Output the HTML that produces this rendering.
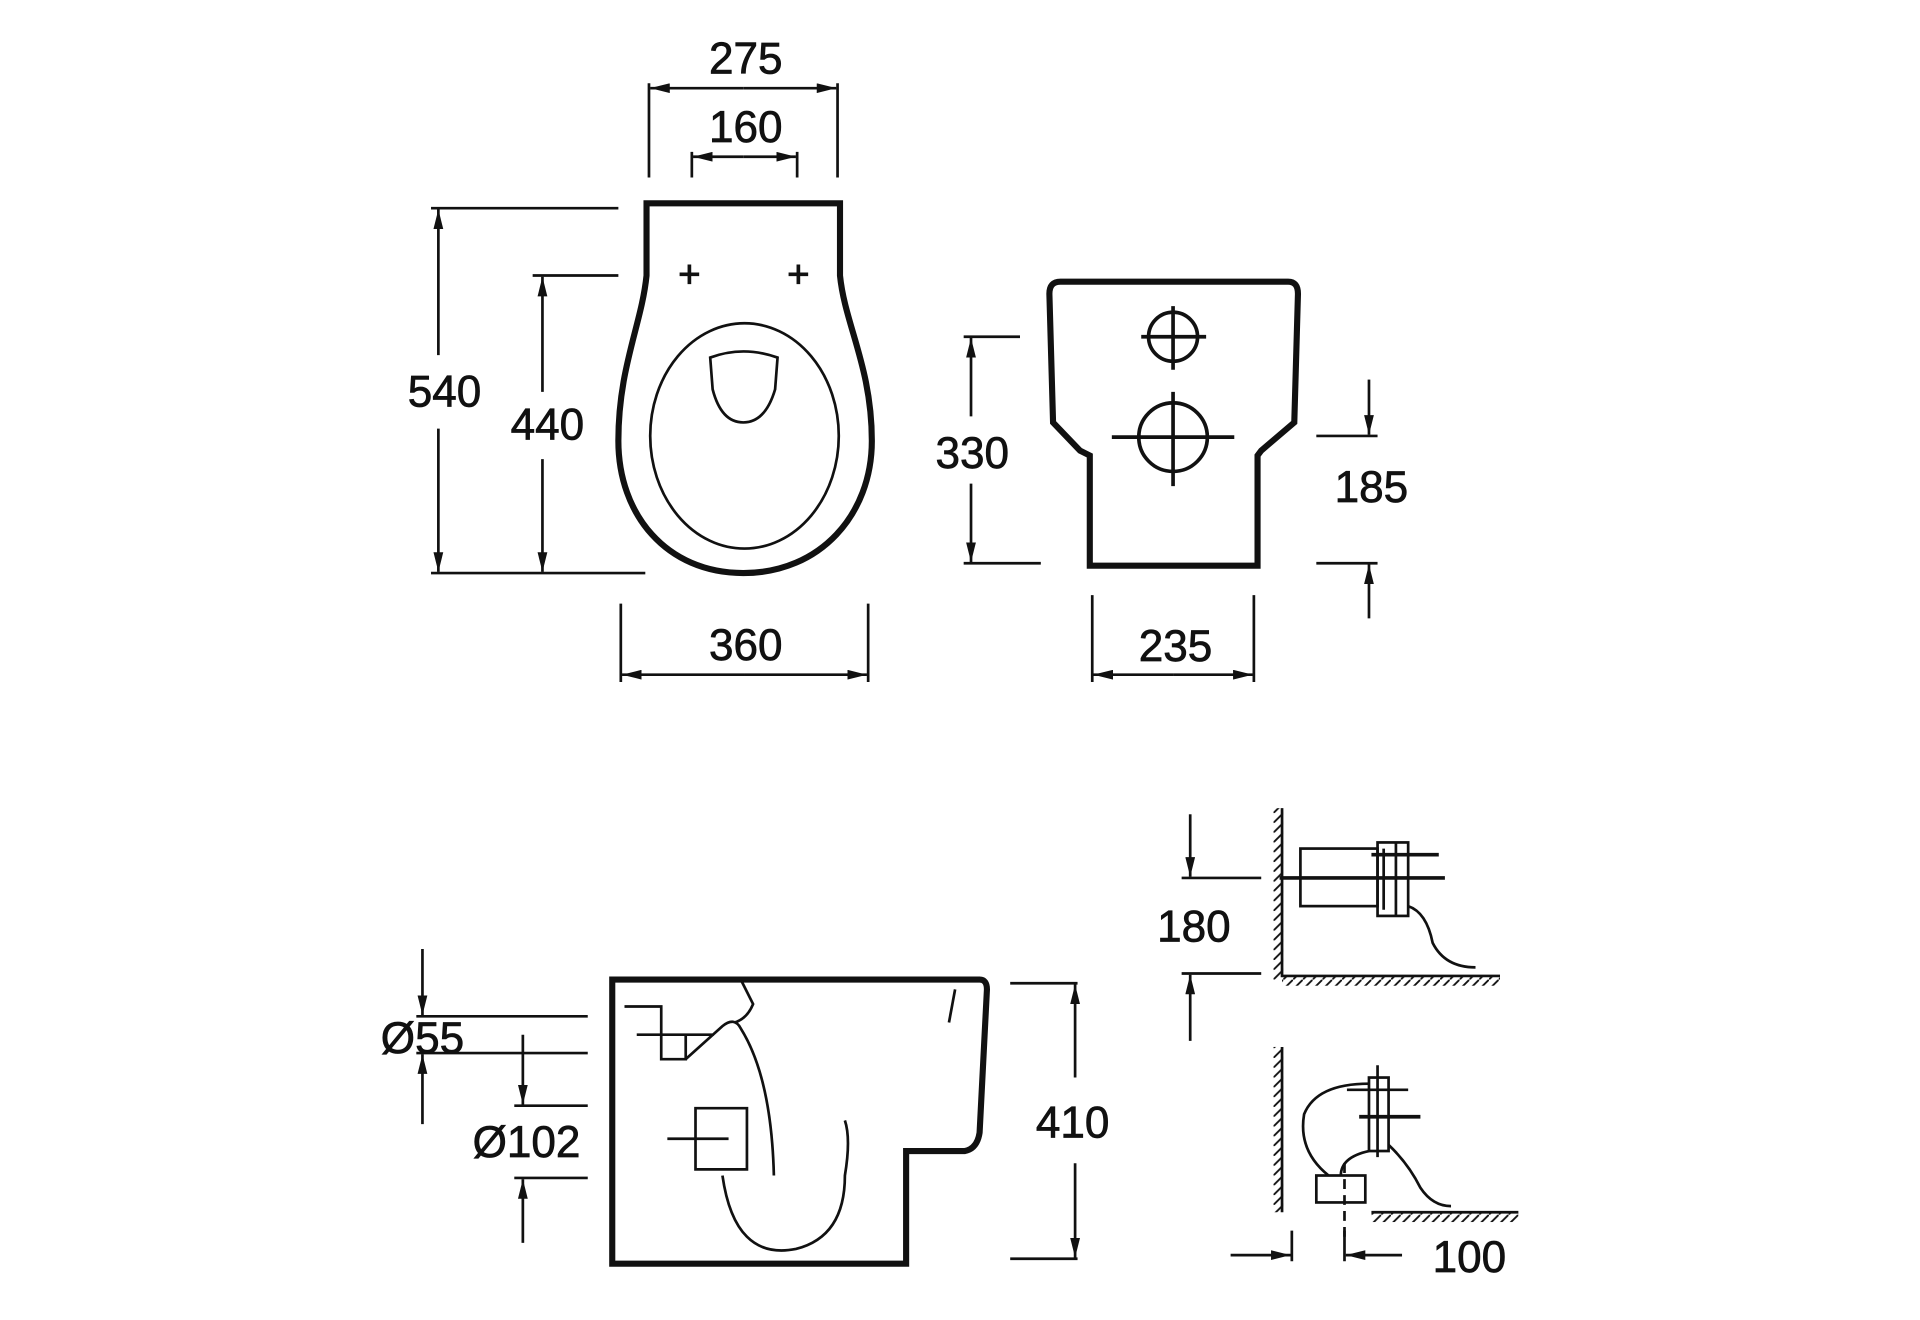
<!DOCTYPE html>
<html><head><meta charset="utf-8"><style>
html,body{margin:0;padding:0;background:#fff;}
svg{display:block;}
text{font-family:"Liberation Sans",sans-serif;font-size:36px;fill:#111;stroke:#111;stroke-width:0.6px;}
</style></head><body>
<svg width="1920" height="1320" viewBox="0 0 1568 1078" preserveAspectRatio="none" xmlns="http://www.w3.org/2000/svg">
<defs>
<marker id="a" viewBox="0 0 16 8" refX="16" refY="4" markerWidth="16" markerHeight="8" markerUnits="userSpaceOnUse" orient="auto"><path d="M0,0 L16,4 L0,8 z" fill="#111"/></marker>
<pattern id="h" width="8" height="8" patternUnits="userSpaceOnUse"><path d="M0,8 L8,0" stroke="#111" stroke-width="1.5"/></pattern>
</defs>
<rect width="1568" height="1078" fill="#fff"/>
<g stroke="#111" fill="none" stroke-width="2.2">
<!-- top view -->
<path d="M528,166 L686,166 L686,225 C690,265 712,300 712,360 C712,420 670,468 607,468 C544,468 505,420 505,360 C505,300 524,265 528,225 Z" stroke-width="5"/>
<ellipse cx="608" cy="356" rx="77" ry="92"/>
<path d="M580,292 Q607,282 635,292 L633,318 Q625,345 607,345 Q589,345 582,318 Z"/>
<path d="M555,224 H571 M563,216 V232 M644,224 H660 M652,216 V232" stroke-width="3"/>
<!-- 275 -->
<path d="M530,68 V145 M684,68 V145"/>
<line x1="607" y1="72" x2="531" y2="72" marker-end="url(#a)"/><line x1="607" y1="72" x2="683" y2="72" marker-end="url(#a)"/>
<path d="M565,124 V145 M651,124 V145"/>
<line x1="607" y1="128" x2="566" y2="128" marker-end="url(#a)"/><line x1="607" y1="128" x2="650" y2="128" marker-end="url(#a)"/>
<!-- 540 / 440 -->
<path d="M352,170 H505 M352,468 H527 M435,225 H505"/>
<line x1="358" y1="290" x2="358" y2="171" marker-end="url(#a)"/><line x1="358" y1="350" x2="358" y2="467" marker-end="url(#a)"/>
<line x1="443" y1="320" x2="443" y2="226" marker-end="url(#a)"/><line x1="443" y1="375" x2="443" y2="467" marker-end="url(#a)"/>
<!-- 360 -->
<path d="M507,493 V557 M709,493 V557"/>
<line x1="608" y1="551" x2="508" y2="551" marker-end="url(#a)"/><line x1="608" y1="551" x2="708" y2="551" marker-end="url(#a)"/>
<!-- front view -->
<path d="M866,230 H1052 Q1060,230 1060,240 L1057,345 L1030,368 L1027,372 V462 H890 V372 L882,368 L860,345 L857,240 Q857,230 866,230 Z" stroke-width="5"/>
<circle cx="958" cy="275" r="20" stroke-width="3"/><path d="M932,275 H985 M958,250 V302" stroke-width="3"/>
<circle cx="958" cy="357" r="28" stroke-width="3"/><path d="M908,357 H1008 M958,320 V397" stroke-width="3"/>
<path d="M787,275 H833 M787,460 H850 M1075,356 H1125 M1075,460 H1125"/>
<line x1="793" y1="340" x2="793" y2="276" marker-end="url(#a)"/><line x1="793" y1="395" x2="793" y2="459" marker-end="url(#a)"/>
<line x1="1118" y1="310" x2="1118" y2="355" marker-end="url(#a)"/><line x1="1118" y1="505" x2="1118" y2="461" marker-end="url(#a)"/>
<path d="M892,486 V557 M1024,486 V557"/>
<line x1="958" y1="551" x2="893" y2="551" marker-end="url(#a)"/><line x1="958" y1="551" x2="1023" y2="551" marker-end="url(#a)"/>
<!-- side view -->
<path d="M500,800 H800 Q806,800 806,808 L800,925 Q798,938 788,940 H740 V1032 H500 Z" stroke-width="5"/>
<path d="M510,822 H540 V845 H560 V865 H540 V845 M520,845 H583 M540,845 V865 L560,865 L590,838 Q600,830 605,840 Q630,880 632,960 M605,800 L615,820 Q610,832 600,835"/>
<path d="M568,905 H610 V955 H568 Z M545,930 H595 M568,905 V955"/>
<path d="M590,960 Q600,1030 650,1020 Q690,1010 690,960 Q695,930 690,915"/>
<path d="M780,808 L775,835"/>
<path d="M340,830 H480 M340,860 H480 M420,903 H480 M420,962 H480"/>
<line x1="345" y1="775" x2="345" y2="829" marker-end="url(#a)"/><line x1="345" y1="918" x2="345" y2="861" marker-end="url(#a)"/>
<line x1="427" y1="845" x2="427" y2="902" marker-end="url(#a)"/><line x1="427" y1="1015" x2="427" y2="963" marker-end="url(#a)"/>
<path d="M825,803 H880 M825,1028 H880"/>
<line x1="878" y1="880" x2="878" y2="804" marker-end="url(#a)"/><line x1="878" y1="950" x2="878" y2="1027" marker-end="url(#a)"/>
<!-- small top -->
<rect x="1040" y="660" width="8" height="140" fill="url(#h)" stroke="none"/><path d="M1047,660 V797 H1225"/>
<rect x="1047" y="797" width="178" height="8" fill="url(#h)" stroke="none"/>
<rect x="1062" y="693" width="63" height="47"/><rect x="1125" y="688" width="25" height="60"/><path d="M1130,693 V743 M1140,688 V748"/>
<path d="M1045,717 H1180 M1120,698 H1175" stroke-width="3"/>
<path d="M1150,740 Q1165,745 1170,770 Q1180,790 1205,790"/>
<path d="M965,717 H1030 M965,795 H1030"/>
<line x1="972" y1="665" x2="972" y2="716" marker-end="url(#a)"/><line x1="972" y1="850" x2="972" y2="796" marker-end="url(#a)"/>
<!-- small bottom -->
<rect x="1040" y="855" width="8" height="135" fill="url(#h)" stroke="none"/><path d="M1047,855 V990"/>
<rect x="1120" y="990" width="120" height="8" fill="url(#h)" stroke="none"/><path d="M1120,990 H1240"/>
<rect x="1118" y="880" width="16" height="60"/><path d="M1110,912 H1160" stroke-width="3"/><path d="M1100,890 H1150 M1125,870 V945"/>
<path d="M1118,885 Q1075,885 1065,910 Q1060,940 1085,960 M1118,940 Q1095,945 1095,960"/>
<rect x="1075" y="960" width="40" height="22"/><path d="M1098,950 V1010" stroke-dasharray="8,5"/>
<path d="M1134,935 Q1150,950 1160,970 Q1170,985 1185,985"/>
<path d="M1055,1005 V1030 M1098,1005 V1030"/>
<line x1="1005" y1="1025" x2="1054" y2="1025" marker-end="url(#a)"/><line x1="1145" y1="1025" x2="1099" y2="1025" marker-end="url(#a)"/>
</g>
<g text-anchor="middle">
<text x="609" y="60">275</text><text x="609" y="116">160</text>
<text x="363" y="332">540</text><text x="447" y="359">440</text>
<text x="609" y="539">360</text>
<text x="794" y="382">330</text><text x="1120" y="410">185</text><text x="960" y="540">235</text>
<text x="345" y="860">Ø55</text><text x="430" y="945">Ø102</text><text x="876" y="929">410</text>
<text x="975" y="769">180</text><text x="1200" y="1039">100</text>
</g>
</svg>
</body></html>
